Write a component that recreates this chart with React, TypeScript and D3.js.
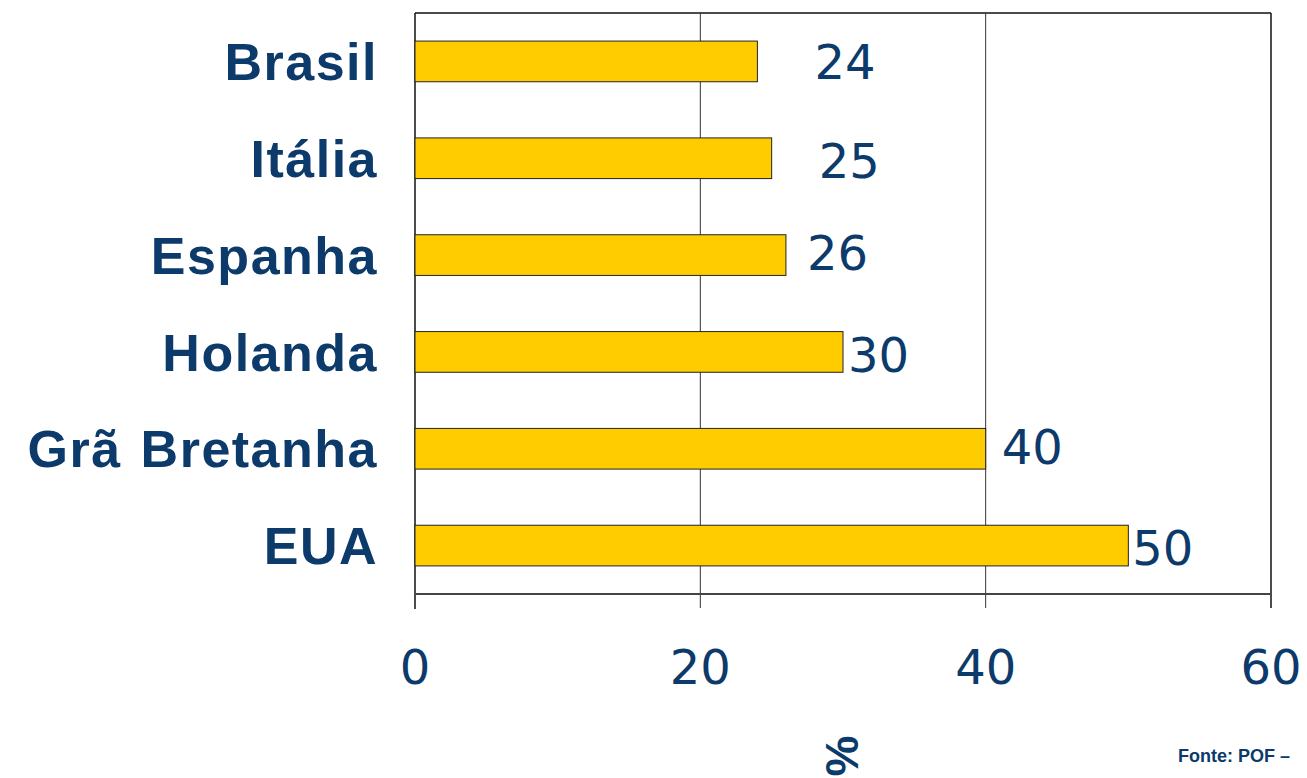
import React from 'react';
import * as d3 from 'd3';

const countries = ['Brasil', 'Itália', 'Espanha', 'Holanda', 'Grã Bretanha', 'EUA'];
const values = [24, 25, 26, 30, 40, 50];
const xTicks = [0, 20, 40, 60];

// offsets of value labels from bar end (labels in the original are hand-placed)
const labelGap = [57, 47, 21, 5, 16, 4];
const labelDy = [0, 2, -2, 3, -2, 2];

const W = 1307;
const H = 778;
const margin = { top: 13, right: 36, bottom: 184, left: 415 };
const navy = '#0b3a6b';

export default function App() {
  const width = W - margin.left - margin.right;
  const height = H - margin.top - margin.bottom;

  const x = d3.scaleLinear().domain([0, 60]).range([0, width]);
  const y = d3.scaleBand().domain(countries).range([0, height]).paddingInner(0.58).paddingOuter(0.29);

  return (
    <div style={{ position: 'fixed', left: 0, top: 0 }}>
      <svg width={W} height={H} style={{ display: 'block', background: '#fff' }}>
        <g transform={`translate(${margin.left},${margin.top})`}>
          {/* plot frame */}
          <line x1={0} x2={width} y1={0} y2={0} stroke="#111" strokeWidth={1.5} />
          <line x1={width} x2={width} y1={0} y2={height + 14} stroke="#111" strokeWidth={1.5} />
          {xTicks.slice(1, -1).map((t) => (
            <line key={t} x1={x(t)} x2={x(t)} y1={0} y2={height + 14} stroke="#333" strokeWidth={1} />
          ))}
          <line x1={0} x2={0} y1={0} y2={height + 15} stroke="#111" strokeWidth={1.5} />
          <line x1={0} x2={width} y1={height} y2={height} stroke="#444" strokeWidth={2} />

          {countries.map((c, i) => (
            <g key={c}>
              <rect
                x={0}
                y={y(c)}
                width={x(values[i])}
                height={y.bandwidth()}
                fill="#FFCC00"
                stroke="#222"
                strokeWidth={1}
              />
              <text
                x={x(values[i]) + labelGap[i]}
                y={(y(c) as number) + y.bandwidth() / 2 + labelDy[i]}
                dy="0.36em"
                fontFamily="DejaVu Sans, Verdana, sans-serif"
                fontSize={48}
                fill={navy}
              >
                {values[i]}
              </text>
              <text
                x={-37}
                y={(y(c) as number) + y.bandwidth() / 2}
                dy="0.36em"
                textAnchor="end"
                fontFamily="Liberation Sans, Arial, sans-serif"
                fontWeight="bold"
                fontSize={52}
                letterSpacing={1.5}
                wordSpacing={3}
                fill={navy}
              >
                {c}
              </text>
            </g>
          ))}

          {xTicks.map((t) => (
            <text
              key={t}
              x={x(t)}
              y={height + 90}
              textAnchor="middle"
              fontFamily="DejaVu Sans, Verdana, sans-serif"
              fontSize={48}
              fill={navy}
            >
              {t}
            </text>
          ))}
        </g>

        <text
          transform={`translate(858, 756) rotate(-90)`}
          textAnchor="middle"
          fontFamily="Liberation Sans, Arial, sans-serif"
          fontWeight="bold"
          fontSize={46}
          fill={navy}
        >
          %
        </text>
        <text
          x={1178}
          y={762}
          fontFamily="Liberation Sans, Arial, sans-serif"
          fontWeight="bold"
          fontSize={18}
          fill={navy}
        >
          Fonte: POF –
        </text>
      </svg>
    </div>
  );
}
